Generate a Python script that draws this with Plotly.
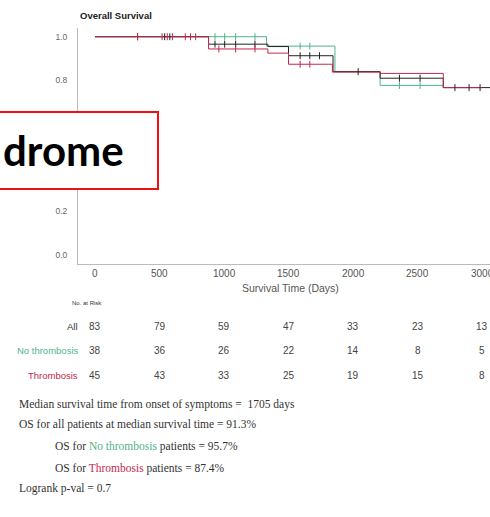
import plotly.graph_objects as go

# Kaplan-Meier step curves: event times (days) and survival after each step
all_t = [0, 880, 1340, 1500, 1845, 2210, 2700, 3080]
all_s = [1.0, 0.966, 0.955, 0.913, 0.840, 0.810, 0.767, 0.767]
no_t = [0, 1330, 1860, 2210, 2700, 3000]
no_s = [1.0, 0.957, 0.840, 0.777, 0.767, 0.767]
th_t = [0, 880, 1340, 1500, 1840, 2210, 2700, 3000]
th_s = [1.0, 0.944, 0.925, 0.874, 0.838, 0.832, 0.767, 0.767]

# censored observations (days, survival)
all_cx = [330, 540, 580, 930, 1005, 1090, 1240, 1590, 1665, 1740, 2040, 2360, 2520, 2790, 2900, 2985]
all_cy = [1.0, 1.0, 1.0, 0.966, 0.966, 0.966, 0.966, 0.913, 0.913, 0.913, 0.840, 0.810, 0.810, 0.767, 0.767, 0.767]
no_cx = [930, 1005, 1090, 1240, 1590, 1665, 2360, 2520]
no_cy = [1.0, 1.0, 1.0, 1.0, 0.957, 0.957, 0.777, 0.777]
th_cx = [330, 520, 560, 600, 700, 740, 780, 960, 1090, 1240, 1590, 1665]
th_cy = [1.0, 1.0, 1.0, 1.0, 1.0, 1.0, 1.0, 0.944, 0.944, 0.944, 0.874, 0.874]

# numbers at risk
risk_days = [0, 500, 1000, 1500, 2000, 2500, 3000]
risk_all = [83, 79, 59, 47, 33, 23, 13]
risk_no = [38, 36, 26, 22, 14, 8, 5]
risk_th = [45, 43, 33, 25, 19, 15, 8]

x_ticks = [0, 500, 1000, 1500, 2000, 2500, 3000]
y_ticks = [0.0, 0.2, 0.8, 1.0]

GREEN = "#4fb38a"
RED = "#c4284e"
BLACK = "#222222"

W, H = 490, 517
L, T, B = 78, 28, 264


def xp(px):
    return (px - L) / (W - L)


def yp(py):
    return (B - py) / (B - T)


fig = go.Figure()
for t, s, c, name in [(no_t, no_s, GREEN, "No thrombosis"),
                      (all_t, all_s, BLACK, "All"),
                      (th_t, th_s, RED, "Thrombosis")]:
    fig.add_trace(go.Scatter(x=t, y=s, mode="lines", line=dict(color=c, width=1, shape="hv"),
                             name=name, showlegend=False, hoverinfo="skip"))
for cx, cy, c in [(no_cx, no_cy, GREEN), (all_cx, all_cy, BLACK), (th_cx, th_cy, RED)]:
    fig.add_trace(go.Scatter(x=cx, y=cy, mode="markers",
                             marker=dict(symbol="line-ns", size=5, line=dict(color=c, width=1)),
                             showlegend=False, hoverinfo="skip"))

ann = []
# title
ann.append(dict(x=xp(78), y=yp(16), xref="paper", yref="paper", xanchor="left", yanchor="middle",
                text="<b>Overall Survival</b>", showarrow=False,
                font=dict(family="Liberation Sans", size=9.5, color="#222")))
# x tick labels (the last one runs off the right edge)
for d in x_ticks:
    ann.append(dict(x=d, y=yp(273), xref="x", yref="paper", xanchor="center", yanchor="middle",
                    text=str(d), showarrow=False,
                    font=dict(family="Liberation Sans", size=10, color="#555")))
# x-axis title
ann.append(dict(x=xp(290), y=yp(288), xref="paper", yref="paper", xanchor="center", yanchor="middle",
                text="Survival Time (Days)", showarrow=False,
                font=dict(family="Liberation Sans", size=10.5, color="#555")))
# risk table
ann.append(dict(x=xp(70), y=yp(303), xref="paper", yref="paper", xanchor="left", yanchor="middle",
                text="No. at Risk", showarrow=False,
                font=dict(family="Liberation Sans", size=6, color="#333")))
rows = [("All", risk_all, "#333", 326), ("No thrombosis", risk_no, GREEN, 350),
        ("Thrombosis", risk_th, RED, 375)]
for label, vals, col, py in rows:
    ann.append(dict(x=xp(80), y=yp(py), xref="paper", yref="paper", xanchor="right", yanchor="middle",
                    text=label, showarrow=False,
                    font=dict(family="Liberation Sans", size=9.5, color=col)))
    for d, v in zip(risk_days, vals):
        ann.append(dict(x=d, y=yp(py), xref="x", yref="paper", xanchor="center", yanchor="middle",
                        text=str(v), showarrow=False,
                        font=dict(family="Liberation Sans", size=10, color="#444")))

# summary statistics
serif = dict(family="Liberation Serif", size=11.5, color="#333")
stats = [
    (17, 404, "Median survival time from onset of symptoms =  1705 days"),
    (17, 424, "OS for all patients at median survival time = 91.3%"),
    (53, 446, f"OS for <span style='color:{GREEN}'>No thrombosis</span> patients = 95.7%"),
    (53, 468, f"OS for <span style='color:{RED}'>Thrombosis</span> patients = 87.4%"),
    (17, 488, "Logrank p-val = 0.7"),
]
for px, py, txt in stats:
    ann.append(dict(x=xp(px), y=yp(py), xref="paper", yref="paper", xanchor="left", yanchor="middle",
                    text=txt, showarrow=False, font=serif))

# callout box
ann.append(dict(x=xp(126), y=yp(150), xref="paper", yref="paper", xanchor="right", yanchor="middle",
                text="<b>drome</b>", showarrow=False,
                font=dict(family="Lato", size=42, color="#000")))

fig.update_layout(
    width=W, height=H,
    margin=dict(l=L, r=0, t=T, b=H - B),
    paper_bgcolor="white", plot_bgcolor="white",
    annotations=ann,
    shapes=[dict(type="rect", xref="paper", yref="paper", x0=xp(-6), x1=xp(158),
                 y0=yp(189), y1=yp(112), fillcolor="white", line=dict(color="#ee1111", width=2),
                 layer="above")],
    xaxis=dict(range=[-132, 3062], showticklabels=False,
               showgrid=False, zeroline=False, showline=True, linecolor="#bbbbbb", linewidth=1,
               ticks=""),
    yaxis=dict(range=[-0.041, 1.04], tickvals=y_ticks, ticktext=[f"{v:.1f}" for v in y_ticks],
               showgrid=False, zeroline=False, showline=True, linecolor="#bbbbbb", linewidth=1,
               ticks="", ticklabelstandoff=8,
               tickfont=dict(family="Liberation Sans", size=8.5, color="#666")),
)

fig.write_html("out.html")
